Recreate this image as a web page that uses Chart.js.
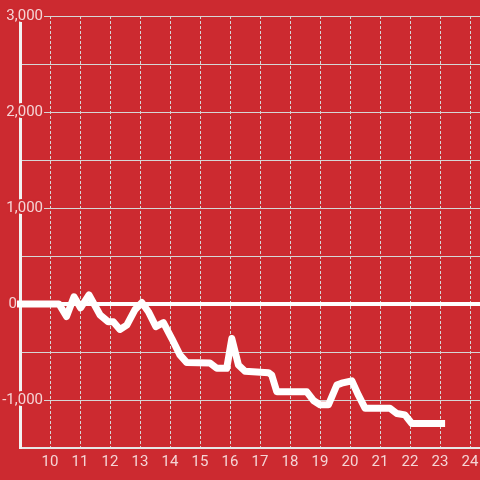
<!DOCTYPE html>
<html>
<head>
<meta charset="utf-8">
<script src="https://cdn.jsdelivr.net/npm/chart.js@4/dist/chart.umd.min.js"></script>
<style>
  html, body { margin: 0; padding: 0; background: #cc2a30; }
  #wrap { width: 480px; height: 480px; }
</style>
</head>
<body>
<div id="wrap"><canvas id="chart" width="480" height="480"></canvas></div>
<script>
// Data (hour of day / running value)
const hours = [8.9, 10.3, 10.55, 10.8, 11.02, 11.3, 11.67, 11.94, 12.11, 12.33, 12.56, 12.83, 13.06, 13.28,
  13.53, 13.78, 14.06, 14.33, 14.56, 15.33, 15.56, 15.89, 16.06, 16.28, 16.5, 17.28, 17.39, 17.56,
  18.56, 18.78, 19.0, 19.28, 19.56, 19.72, 20.06, 20.28, 20.5, 21.33, 21.56, 21.83, 22.06, 23.17];
const values = [0, 0, -130, 75, -40, 95, -115, -185, -185, -265, -220, -60, 15, -80,
  -235, -195, -360, -530, -610, -615, -670, -670, -360, -635, -700, -715, -740, -915,
  -915, -1005, -1050, -1050, -845, -825, -800, -950, -1085, -1085, -1140, -1155, -1245, -1245];

// Axis ticks
const xTicks = [10, 11, 12, 13, 14, 15, 16, 17, 18, 19, 20, 21, 22, 23, 24];
const yTicks = [-1500, -1000, -500, 0, 500, 1000, 1500, 2000, 2500, 3000];
const yLabelled = [-1000, 0, 1000, 2000, 3000];

const RED = '#cc2a30';
const GRID = '#d6d6d6';
const LABEL = 'rgba(255, 255, 255, 0.8)';

const points = hours.map((h, i) => ({ x: h, y: values[i] }));

const ctx = document.getElementById('chart').getContext('2d');
new Chart(ctx, {
  type: 'line',
  data: {
    datasets: [{
      data: points,
      borderColor: '#ffffff',
      borderWidth: 7,
      borderJoinStyle: 'round',
      pointRadius: 0,
      tension: 0,
      fill: false,
      clip: false
    }]
  },
  options: {
    responsive: false,
    animation: false,
    layout: { padding: { top: 16, right: 0, bottom: 0, left: 0 } },
    plugins: {
      legend: { display: false },
      tooltip: { enabled: false }
    },
    scales: {
      x: {
        type: 'linear',
        min: 9,
        max: 24.333,
        afterBuildTicks: scale => { scale.ticks = xTicks.map(v => ({ value: v })); },
        afterFit: scale => {
          scale.height = 32;
          scale.paddingLeft = 0;
          scale.paddingRight = 0;
        },
        grid: { color: GRID, lineWidth: 1, drawTicks: false },
        border: { color: '#e6e6e6', width: 2, dash: [3, 2] },
        ticks: {
          color: LABEL,
          padding: 5,
          maxRotation: 0,
          font: { family: 'Roboto', size: 15 }
        }
      },
      y: {
        min: -1500,
        max: 3000,
        afterBuildTicks: scale => { scale.ticks = yTicks.map(v => ({ value: v })); },
        afterFit: scale => {
          scale.width = 20;
          scale.paddingTop = 0;
          scale.paddingBottom = 0;
          // labels hang over the plot, so don't clip them to the axis box
          scale._computeLabelArea = () => undefined;
        },
        grid: {
          drawTicks: false,
          color: c => c.tick && c.tick.value === 0 ? '#ffffff' : GRID,
          lineWidth: c => c.tick && c.tick.value === 0 ? 4 : 1
        },
        border: { color: '#f2f2f2', width: 3 },
        ticks: {
          color: LABEL,
          padding: -23,
          textStrokeColor: RED,
          textStrokeWidth: 4,
          font: { family: 'Roboto', size: 15 },
          callback: v => {
            if (!yLabelled.includes(v)) return '';
            if (v === 0) return '0       ';
            return v.toLocaleString('en-US');
          }
        }
      }
    }
  }
});
</script>
</body>
</html>
